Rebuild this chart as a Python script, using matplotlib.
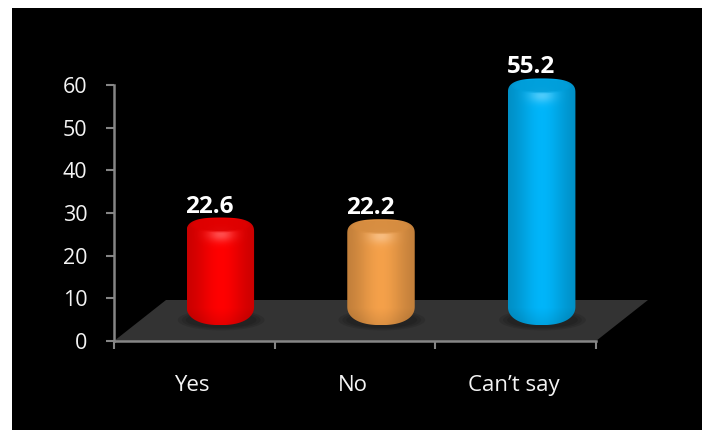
import numpy as np
import matplotlib
matplotlib.use('Agg')
import matplotlib.pyplot as plt
from matplotlib.patches import Ellipse, Polygon, Rectangle
from matplotlib.transforms import Affine2D

categories = ['Yes', 'No', 'Can\u2019t say']
values = [22.6, 22.2, 55.2]
yticks = [0, 10, 20, 30, 40, 50, 60]
colors = [(1.0, 0.0, 0.0), (0.96, 0.63, 0.29), (0.0, 0.71, 0.98)]

W, H = 708, 430
plt.rcParams['font.family'] = ['Open Sans', 'DejaVu Sans']
txt = '#f4f4f4'

fig = plt.figure(figsize=(W / 100, H / 100), dpi=100, facecolor='white')
fig.patches.append(Rectangle((12 / W, 0), 690 / W, 422 / H, zorder=-5,
                             transform=fig.transFigure, fc='black', ec='none'))

ax = fig.add_axes([114 / W, 1 - 341 / H, 482 / W, 256 / H], facecolor='none')
ax.set_xlim(-0.5, 2.5)
ax.set_ylim(0, 60)

grey = '#858585'
for s in ['top', 'right']:
    ax.spines[s].set_visible(False)
for s in ['left', 'bottom']:
    ax.spines[s].set_color(grey)
    ax.spines[s].set_linewidth(1.8)
ax.set_yticks(yticks)
ax.set_xticks(np.arange(-0.5, 3, 1))
ax.set_xticklabels([])
ax.tick_params(axis='y', labelcolor=txt, color=grey, labelsize=15.5, length=6, width=1.5, pad=13)
ax.tick_params(axis='x', color=grey, length=6, width=1.5)

# category labels go between the ticks
for i, c in enumerate(categories):
    ax.annotate(c, (i, 0), xytext=(-1.5, -36), textcoords='offset points', ha='center',
                va='baseline', color=txt, fontsize=16, annotation_clip=False)

# floor and bars are pushed back in pixels to fake the 3d look
back = ax.transData + Affine2D().translate(52, 41)
mid = ax.transData + Affine2D().translate(26, 21)

# two back corners are the same data points moved by the depth
corners = ax.transData.transform([(-0.5, 0), (2.5, 0)])
back_corners = back.transform([(-0.5, 0), (2.5, 0)])
floor = Polygon(np.vstack([corners, back_corners[::-1]]), closed=True, fc='#333333', ec='none',
                transform=None, zorder=1, clip_on=False)
ax.add_patch(floor)

bw = 0.42


def outline(i, bot, top):
    # barrel shape: squashed superellipse at both ends
    t = np.linspace(0, np.pi / 2, 40)
    hw = bw / 2
    # bottom left to bottom right
    bx = np.concatenate([-np.cos(t) ** (2 / 2.3), np.cos(t[::-1]) ** (2 / 2.3)]) * hw
    by = bot + 4.4 - 4.4 * np.concatenate([np.sin(t), np.sin(t[::-1])]) ** (2 / 2.3)
    # top right to top left
    tx = np.concatenate([np.cos(t) ** (2 / 2.8), -np.cos(t[::-1]) ** (2 / 2.8)]) * hw
    ty = top - 3.4 + 3.4 * np.concatenate([np.sin(t), np.sin(t[::-1])]) ** (2 / 2.8)
    return np.column_stack([i + np.concatenate([bx, tx]), np.concatenate([by, ty])])


def shade(col, height):
    # rgb picture of a lit cylinder, columns across, rows top to bottom
    ny, nx = 260, 80
    u = np.linspace(-1, 1, nx)
    v = np.linspace(0, height, ny)[::-1]
    g = 0.76 + 0.24 * np.exp(-(u / 0.72) ** 2)
    G = np.tile(g, (ny, 1))
    # darker towards the bottom curve
    low = np.clip(v / 4.0, 0, 1)[:, None]
    G = G * (0.9 + 0.1 * low)
    img = np.zeros((ny, nx, 3))
    for k in range(3):
        img[:, :, k] = col[k] * G
    # glow under the lip
    d = ((u / 0.38) ** 2)[None, :] + (((v - (height - 4.0)) / 1.7) ** 2)[:, None]
    glow = 0.3 * np.exp(-d)
    img = img + (1 - img) * glow[:, :, None]
    return np.clip(img, 0, 1)


for i, (val, col) in enumerate(zip(values, colors)):
    # shadow on the floor
    for w, h in [(0.54, 4.9), (0.49, 4.3), (0.44, 3.7)]:
        ax.add_patch(Ellipse((i + 0.005, 0), w, h, fc='black', alpha=0.11, ec='none',
                             transform=mid, zorder=2, clip_on=False))
    top = val + 1.4
    bot = -1.2
    body = Polygon(outline(i, bot, top), closed=True, fc='none', ec='none', transform=mid, zorder=3)
    ax.add_patch(body)
    im = ax.imshow(shade(col, top - bot), extent=(i - bw / 2, i + bw / 2, bot, top), aspect='auto',
                   transform=mid, zorder=3, interpolation='bilinear')
    im.set_clip_box(fig.bbox)
    im.set_clip_path(body)
    # top cap, two layers so the rim is soft
    cap = tuple(c * 0.87 for c in col)
    ax.add_patch(Ellipse((i, top - 1.75), bw * 0.88, 3.4, fc=cap, alpha=0.45, ec='none',
                         transform=mid, zorder=4, clip_on=False))
    ax.add_patch(Ellipse((i, top - 1.7), bw * 0.8, 2.9, fc=cap, alpha=0.8, ec='none',
                         transform=mid, zorder=4, clip_on=False))
    ax.annotate(f'{val}', (i, val), xytext=(15 * 0.72, 32 * 0.72), textcoords='offset points',
                ha='center', va='baseline', color='white', fontsize=17.5, fontweight='bold',
                annotation_clip=False, zorder=5)

ax.set_xlim(-0.5, 2.5)
ax.set_ylim(0, 60)
fig.savefig('out.png', dpi=100, facecolor='white')
